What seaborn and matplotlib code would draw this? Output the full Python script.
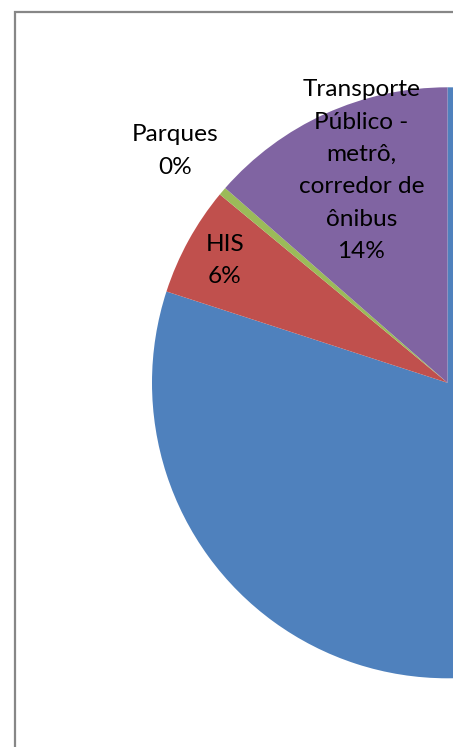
import numpy as np
import matplotlib
matplotlib.use("Agg")
import matplotlib.pyplot as plt
import seaborn as sns
from matplotlib.patches import Rectangle

# slice data (clockwise from 12 o'clock); the first slice's label sits off the cropped picture
categories = ["", "HIS", "Parques", "Transporte\nPúblico -\nmetrô,\ncorredor de\nônibus"]
values = [80.0, 6.0, 0.45, 13.55]
colors = ["#4F81BD", "#C0504D", "#9BBB59", "#8064A2"]
label_dist = [0.6, 0.86, 1.21, 0.775]
label_turn = [0, 0, 0, -2.3]  # degrees, small nudge from the wedge's middle

sns.set_theme(style="white")
plt.rcParams["font.family"] = ["Lato", "DejaVu Sans"]

W, H = 453, 747
fig = plt.figure(figsize=(W / 100, H / 100), dpi=100)
ax = fig.add_axes([0, 0, 1, 1])

cx, cy, r = 447.5, H - 382.8, 295.5
wedges, _ = ax.pie(values, colors=sns.color_palette(colors), startangle=90,
                   counterclock=False, center=(cx, cy), radius=r, frame=True,
                   wedgeprops=dict(linewidth=0))

total = sum(values)
for w, name, v, d, t in zip(wedges, categories, values, label_dist, label_turn):
    if not name:
        continue
    mid = np.deg2rad((w.theta1 + w.theta2) / 2 + t)
    x = cx + d * r * np.cos(mid)
    y = cy + d * r * np.sin(mid)
    ax.text(x, y, f"{name}\n{v / total * 100:.0f}%", ha="center", va="center",
            fontsize=17.6, color="black", linespacing=1.67)

ax.set_xlim(0, W)
ax.set_ylim(0, H)
ax.set_aspect("equal")
ax.axis("off")

# chart frame (cropped on the right and bottom)
fig.add_artist(Rectangle((15 / W, -0.1), 1.0, (H - 12) / H + 0.1, transform=fig.transFigure,
                         fill=False, edgecolor="#878787", linewidth=1.6))

fig.savefig("out.png", dpi=100)
